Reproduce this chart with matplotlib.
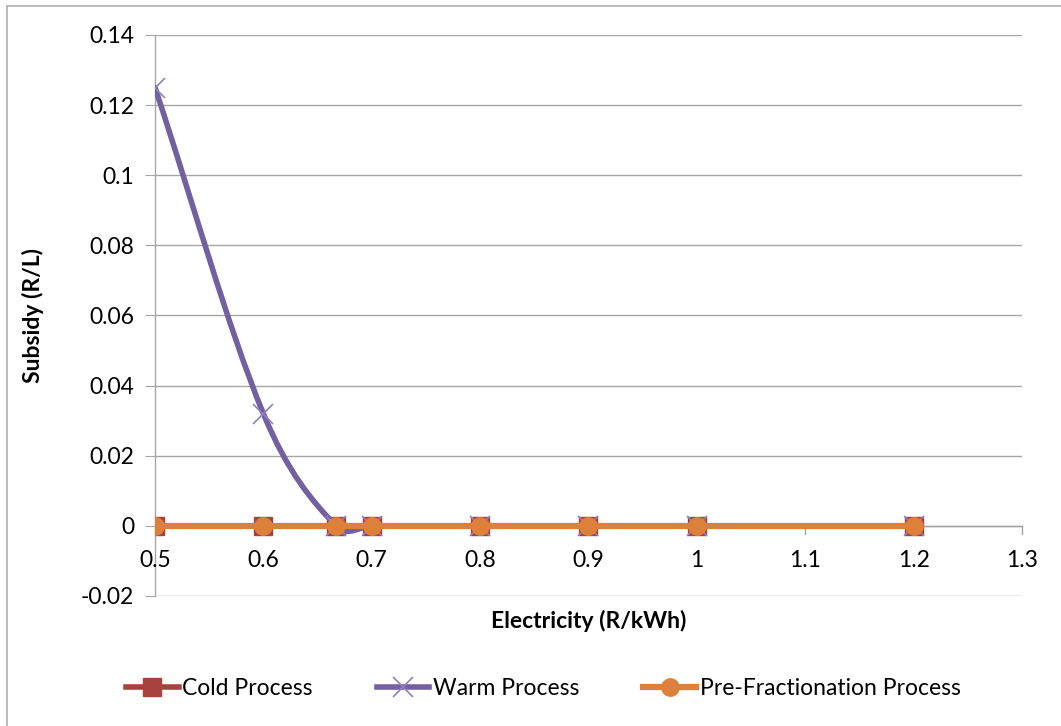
import numpy as np
import matplotlib
matplotlib.use("Agg")
import matplotlib.pyplot as plt
from matplotlib.path import Path
from matplotlib.patches import PathPatch
from matplotlib.lines import Line2D

plt.rcParams['font.family'] = ['Lato', 'DejaVu Sans']

electricity = [0.5, 0.6, 0.667, 0.7, 0.8, 0.9, 1.0, 1.2]
cold = [0, 0, 0, 0, 0, 0, 0, 0]
warm = [0.125, 0.032, 0, 0, 0, 0, 0, 0]
prefrac = [0, 0, 0, 0, 0, 0, 0, 0]

x_ticks = [0.5, 0.6, 0.7, 0.8, 0.9, 1.0, 1.1, 1.2, 1.3]
x_labels = ['0.5', '0.6', '0.7', '0.8', '0.9', '1', '1.1', '1.2', '1.3']
y_ticks = [-0.02, 0, 0.02, 0.04, 0.06, 0.08, 0.1, 0.12, 0.14]
y_labels = ['-0.02', '0', '0.02', '0.04', '0.06', '0.08', '0.1', '0.12', '0.14']

c_cold = '#A8423F'
c_warm = '#7260A0'
c_pre = '#DD803A'

FS = 16.5


def smooth_path(xs, ys):
    xs = np.asarray(xs, float)
    ys = np.asarray(ys, float)
    n = len(xs)
    verts = [(xs[0], ys[0])]
    codes = [Path.MOVETO]
    for i in range(n - 1):
        i0 = max(i - 1, 0)
        i3 = min(i + 2, n - 1)
        d0 = xs[i] - xs[i0]
        d1 = xs[i + 1] - xs[i]
        d2 = xs[i3] - xs[i + 1]
        den1 = (d0 + d1) if i0 != i else d1
        den2 = (d1 + d2) if i3 != i + 1 else d1
        t1x = (xs[i + 1] - xs[i0]) * d1 / den1 / 3
        t1y = (ys[i + 1] - ys[i0]) * d1 / den1 / 3
        t2x = (xs[i3] - xs[i]) * d1 / den2 / 3
        t2y = (ys[i3] - ys[i]) * d1 / den2 / 3
        verts += [(xs[i] + t1x, ys[i] + t1y),
                  (xs[i + 1] - t2x, ys[i + 1] - t2y),
                  (xs[i + 1], ys[i + 1])]
        codes += [Path.CURVE4] * 3
    return Path(verts, codes)


fig = plt.figure(figsize=(10.61, 7.26), dpi=100)
ax = fig.add_axes([0.1461, 0.1791, 0.8171, 0.7727])

ax.set_xlim(0.5, 1.3)
ax.set_ylim(-0.02, 0.14)

for yt in y_ticks:
    ax.axhline(yt, color='#A6A6A6', lw=1.0, zorder=1)

for s in ['top', 'right', 'bottom']:
    ax.spines[s].set_visible(False)
ax.spines['left'].set_color('#A6A6A6')
ax.spines['left'].set_linewidth(1.0)

ax.set_yticks(y_ticks)
ax.set_yticklabels(y_labels)
ax.tick_params(axis='y', length=7, colors='#A6A6A6', labelcolor='#000000',
               labelsize=FS, pad=8)
ax.set_xticks(x_ticks)
ax.set_xticklabels([])
ax.tick_params(axis='x', length=0)

# x-axis line at zero with small downward ticks
ax.axhline(0, color='#A6A6A6', lw=1.0, zorder=1)
for xt in x_ticks:
    ax.plot([xt, xt], [0, -0.0022], color='#A6A6A6', lw=1.0, zorder=1, clip_on=False)
for xt, lab in zip(x_ticks, x_labels):
    ax.text(xt, -0.0068, lab, ha='center', va='top', fontsize=FS, color='#000000')

# Cold process
ax.plot(electricity, cold, color=c_cold, lw=4, marker='s', ms=13,
        markerfacecolor=c_cold, markeredgecolor=c_cold, zorder=3)
# Warm process smoothed
ax.add_patch(PathPatch(smooth_path(electricity, warm), facecolor='none',
                       edgecolor=c_warm, lw=4, zorder=4, capstyle='round'))
ax.plot(electricity, warm, linestyle='none', marker='x', ms=14, mew=1.2,
        color='#9080C0', zorder=4.5)
# Pre-fractionation
ax.plot(electricity, prefrac, color=c_pre, lw=4.5, marker='o', ms=12.5,
        markerfacecolor=c_pre, markeredgecolor=c_pre, zorder=5)

ax.set_ylabel('Subsidy (R/L)', fontsize=FS, fontweight='bold')
ax.yaxis.set_label_coords(-0.128, 0.5)
ax.set_xlabel('Electricity (R/kWh)', fontsize=FS, fontweight='bold')
ax.xaxis.set_label_coords(0.5, -0.024)

handles = [
    Line2D([], [], color=c_cold, lw=4, marker='s', ms=13),
    Line2D([], [], color=c_warm, lw=4, marker='x', ms=14, mew=1.2, markeredgecolor='#9080C0'),
    Line2D([], [], color=c_pre, lw=4.5, marker='o', ms=12.5),
]
fig.legend(handles, ['Cold Process', 'Warm Process', 'Pre-Fractionation Process'],
           loc='center', bbox_to_anchor=(0.512, 0.051), ncol=3, frameon=False,
           fontsize=FS, handlelength=2.3, handletextpad=0.15, columnspacing=2.8)

# figure border
fig.add_artist(Line2D([7 / 1061, 7 / 1061], [0, 1 - 6 / 726], color='#B0B0B0', lw=1.2,
                      transform=fig.transFigure))
fig.add_artist(Line2D([7 / 1061, 1], [1 - 6 / 726, 1 - 6 / 726], color='#B0B0B0', lw=1.2,
                      transform=fig.transFigure))

fig.savefig('out.png', dpi=100)
